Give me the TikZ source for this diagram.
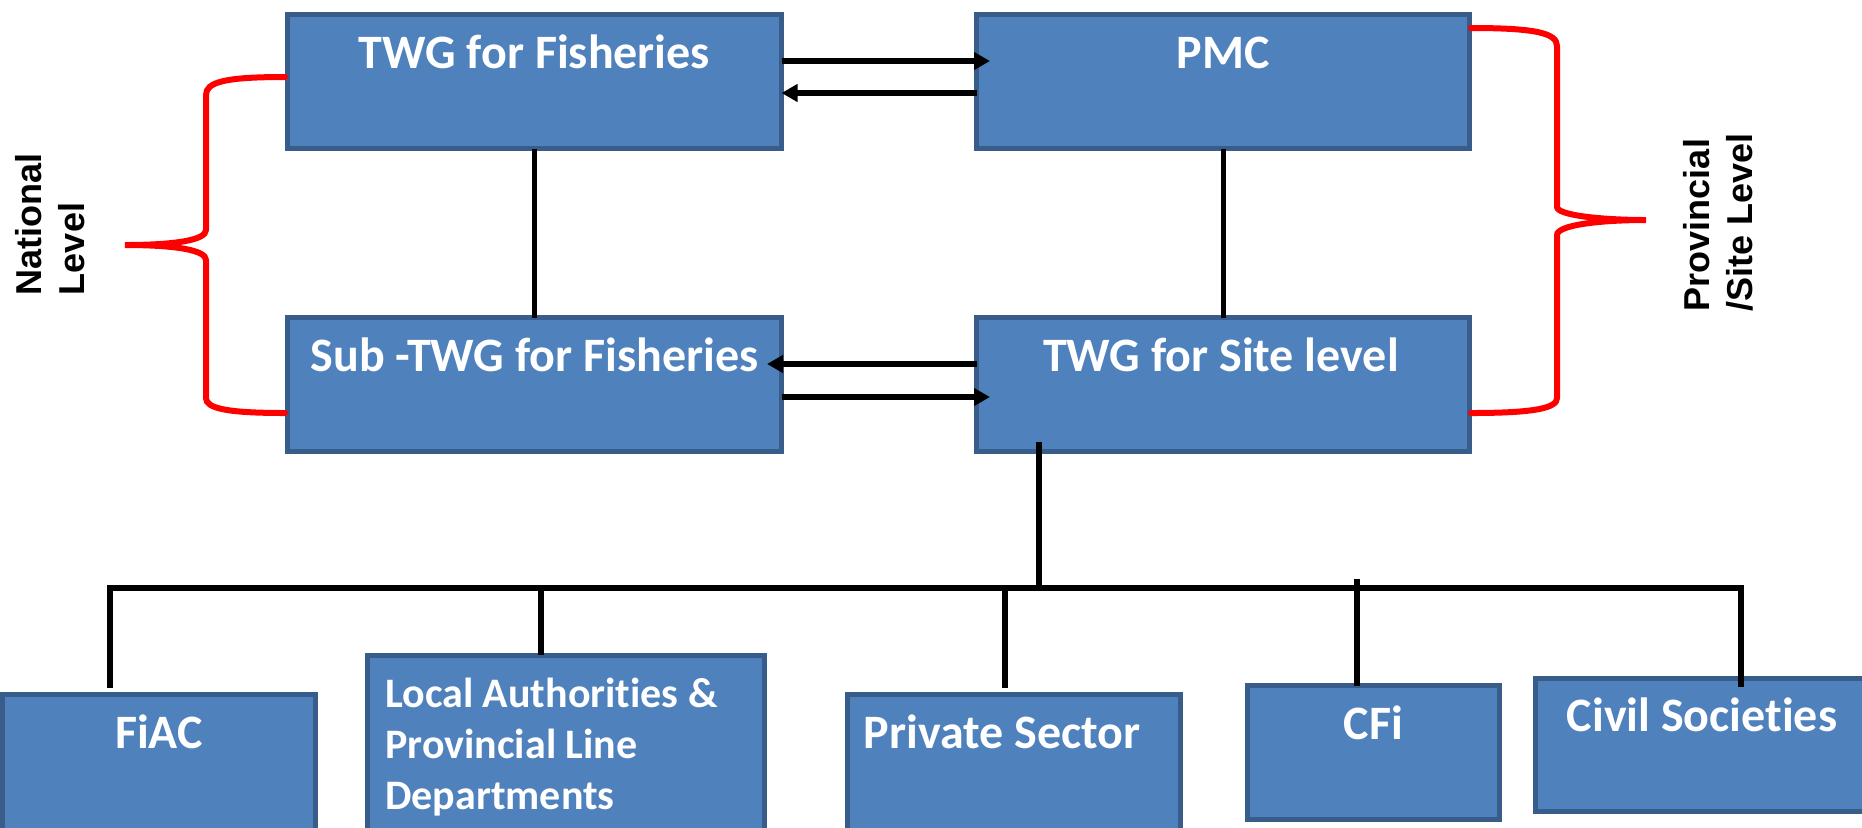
\documentclass[tikz,border=0pt]{standalone}
\usepackage{fontspec}
\setmainfont{Carlito}[Ligatures=NoCommon]
\newfontfamily\lvlfont{Liberation Sans}
\usetikzlibrary{arrows.meta}
\definecolor{boxfill}{HTML}{4F81BD}
\definecolor{boxline}{HTML}{385D8A}
\definecolor{bracered}{HTML}{FF0000}
\tikzset{
  orgbox/.style={draw=boxline, fill=boxfill, line width=2.5pt, rectangle, inner sep=0pt, outer sep=0pt, anchor=north west},
  boxtext/.style={text=white, font=\fontsize{24}{29}\selectfont\bfseries, inner sep=0pt, anchor=base},
  arr/.style={line width=3pt, -{Triangle[length=8pt,width=8.5pt]}},
  link/.style={line width=2.5pt},
  tree/.style={line width=3pt, line cap=rect},
  bracelink/.style={draw=bracered, line width=3pt, line cap=round},
  lvltext/.style={font=\lvlfont\fontsize{18}{21.5}\selectfont\bfseries, rotate=90, align=left, inner sep=0pt}
}
\begin{document}
\begin{tikzpicture}[x=0.5pt, y=-0.5pt]
\useasboundingbox (0,0) rectangle (1862,827);
\clip (0,0) rectangle (1862,827);

% boxes
\node[orgbox, minimum width=247pt, minimum height=67pt] (twgf) at (287.5,14.5) {};
\node[orgbox, minimum width=246.5pt, minimum height=67pt] (pmc) at (976.5,14.5) {};
\node[orgbox, minimum width=247pt, minimum height=67pt] (sub) at (287.5,317.5) {};
\node[orgbox, minimum width=246.5pt, minimum height=67pt] (site) at (976.5,317.5) {};
\node[orgbox, minimum width=156.5pt, minimum height=76.5pt] (fiac) at (2.5,694.5) {};
\node[orgbox, minimum width=198.5pt, minimum height=96pt] (local) at (367.5,655.5) {};
\node[orgbox, minimum width=166.5pt, minimum height=76.5pt] (private) at (847.5,694.5) {};
\node[orgbox, minimum width=126pt, minimum height=67pt] (cfi) at (1247.5,685.5) {};
\node[orgbox, minimum width=166.5pt, minimum height=66.5pt] (civil) at (1535.5,678.5) {};

% texts
\node[boxtext] (t1) at ([yshift=-27pt]twgf.north) {TWG for Fisheries};
\node[boxtext] (t2) at ([yshift=-27pt]pmc.north) {PMC};
\node[boxtext] (t3) at ([yshift=-27pt]sub.north) {Sub -TWG for Fisheries};
\node[boxtext] (t4) at ([xshift=-1pt,yshift=-27pt]site.north) {TWG for Site level};
\node[boxtext] (t5) at ([yshift=-27pt]fiac.north) {FiAC};
\node[text=white, font=\fontsize{21}{25.5}\selectfont\bfseries, inner sep=0pt, align=left, anchor=north west] (t6) at (385,678) {Local Authorities \&\\Provincial Line\\Departments};
\node[boxtext] (t7) at ([xshift=-6pt,yshift=-27pt]private.north) {Private Sector};
\node[boxtext] (t8) at ([yshift=-27pt]cfi.north) {CFi};
\node[boxtext] (t9) at ([yshift=-26.5pt]civil.north) {Civil Societies};

% arrows
\draw[arr] ([yshift=-23.25pt]twgf.north east) -- ([xshift=6.75pt,yshift=-23.25pt]pmc.north west);
\draw[arr] ([yshift=-39.25pt]pmc.north west) -- ([yshift=-39.25pt]twgf.north east);
\draw[arr] ([yshift=-23.25pt]site.north west) -- ([xshift=-7.25pt,yshift=-23.25pt]sub.north east);
\draw[arr] ([yshift=-39.75pt]sub.north east) -- ([xshift=6.75pt,yshift=-39.75pt]site.north west);

% vertical links
\draw[link] (twgf.south) -- (sub.north);
\draw[link] (pmc.south) -- (site.north);

% tree
\coordinate (trunktop) at (1039,445);
\coordinate (d1) at (110,588);
\coordinate (d2) at (541,588);
\coordinate (d3) at (1005,588);
\coordinate (d4) at (1357,582);
\coordinate (d5) at (1741,588);
\draw[tree] (trunktop) -- (trunktop |- d1);
\draw[tree] (d1) -- (d5);
\draw[tree, shorten >=4.75pt] (d1) -- (d1 |- fiac.north);
\draw[tree, shorten >=1.75pt] (d2) -- (d2 |- local.north);
\draw[tree, shorten >=4.75pt] (d3) -- (d3 |- private.north);
\draw[tree, shorten >=1.25pt] (d4) -- (d4 |- cfi.north);
\draw[tree, shorten >=-2.75pt] (d5) -- (d5 |- civil.north);

% braces
\draw[bracelink] (285,77) .. controls (225,77) and (206,82) .. (206,95) -- (206,230)
  .. controls (206,240) and (175,245) .. (125,245)
  .. controls (175,245) and (206,250) .. (206,260) -- (206,398)
  .. controls (206,408) and (225,413) .. (285,413);
\draw[bracelink] (1471,28) .. controls (1535,28) and (1557,33) .. (1557,46) -- (1557,207)
  .. controls (1557,215) and (1600,220) .. (1646,220)
  .. controls (1600,220) and (1557,225) .. (1557,235) -- (1557,398)
  .. controls (1557,408) and (1535,413) .. (1471,413);

% level labels
\node[lvltext] (natl) at (50,224) {National\\Level};
\node[lvltext] (prov) at (1718,222) {Provincial\\/Site Level};
\end{tikzpicture}
\end{document}
